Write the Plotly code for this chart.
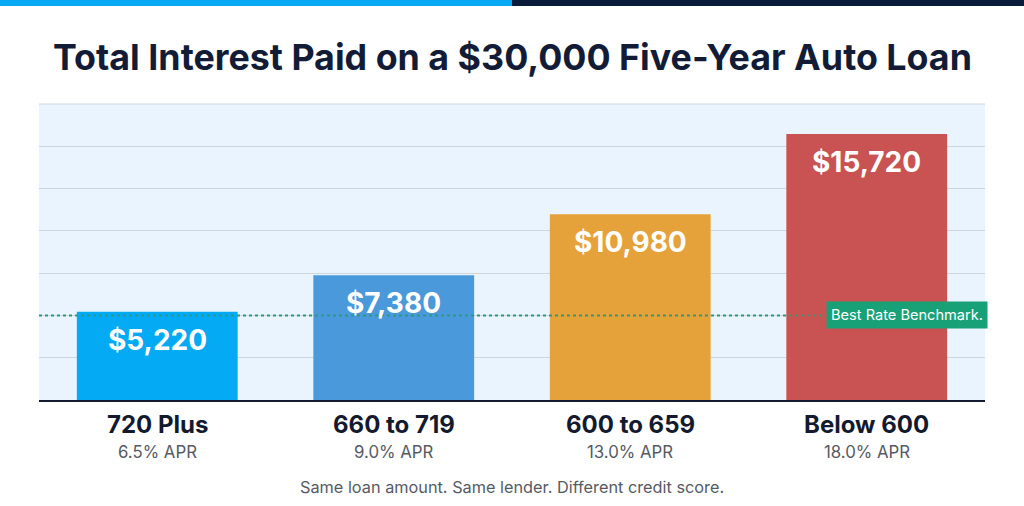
import plotly.graph_objects as go

categories = ["720 Plus", "660 to 719", "600 to 659", "Below 600"]
apr_labels = ["6.5% APR", "9.0% APR", "13.0% APR", "18.0% APR"]
interest = [5220, 7380, 10980, 15720]
value_labels = ["$5,220", "$7,380", "$10,980", "$15,720"]
bar_colors = ["#05AAF5", "#4A99DA", "#E6A23A", "#C85352"]
benchmark = 5000
benchmark_label = "Best Rate Benchmark."
title = "Total Interest Paid on a $30,000 Five-Year Auto Loan"
footer = "Same loan amount. Same lender. Different credit score."

W, H = 1024, 506
L, R, T, B = 39, 39, 104, 106
pw, ph = W - L - R, H - T - B

def px_x(x):
    return (x - L) / pw

def px_y(y):
    return (H - B - y) / ph

fig = go.Figure()
fig.add_trace(go.Bar(
    x=categories, y=interest, marker=dict(color=bar_colors, line=dict(width=0)),
    width=0.68, hoverinfo="skip", showlegend=False,
))

ann = []
for c, v, t in zip(categories, interest, value_labels):
    ann.append(dict(x=c, y=v, xref="x", yref="y", text=f"<b>{t}</b>", showarrow=False,
                    yanchor="middle", yshift=-28,
                    font=dict(family="Inter", size=28, color="white")))
for c, a in zip(categories, apr_labels):
    ann.append(dict(x=c, y=px_y(424), xref="x", yref="paper", text=f"<b>{c}</b>", showarrow=False,
                    yanchor="middle", font=dict(family="Inter", size=24, color="#141A2E")))
    ann.append(dict(x=c, y=px_y(452), xref="x", yref="paper", text=a, showarrow=False,
                    yanchor="middle", font=dict(family="Inter", size=16.8, color="#555A63")))
ann.append(dict(x=0.5, y=px_y(487), xref="paper", yref="paper", text=footer, showarrow=False,
                yanchor="middle", font=dict(family="Inter", size=16.3, color="#555A63")))
ann.append(dict(x=0.5, y=px_y(57), xref="paper", yref="paper", text=f"<b>{title}</b>", showarrow=False,
                yanchor="middle", font=dict(family="Inter", size=35.8, color="#131C36")))
ann.append(dict(x=px_x(826), y=benchmark, xref="paper", yref="y", text=benchmark_label, showarrow=False,
                xanchor="left", yanchor="middle", bgcolor="#18A077", borderpad=4,
                font=dict(family="Inter", size=14.6, color="white")))

shapes = [
    dict(type="line", xref="paper", yref="paper", x0=0, x1=1, y0=1, y1=1,
         line=dict(color="#CDD6DF", width=1), layer="below"),
    dict(type="line", xref="paper", yref="y", x0=0, x1=px_x(826), y0=benchmark, y1=benchmark,
         line=dict(color="#2E9A7A", width=2, dash="dot"), layer="above"),
    dict(type="rect", xref="paper", yref="paper", x0=px_x(0), x1=px_x(512), y0=px_y(0), y1=px_y(6),
         fillcolor="#08A9F4", line=dict(width=0)),
    dict(type="rect", xref="paper", yref="paper", x0=px_x(512), x1=px_x(1024), y0=px_y(0), y1=px_y(6),
         fillcolor="#0A1A3A", line=dict(width=0)),
]

fig.update_layout(
    width=W, height=H, margin=dict(l=L, r=R, t=T, b=B),
    paper_bgcolor="white", plot_bgcolor="#EAF4FE",
    annotations=ann, shapes=shapes, bargap=0.32,
    xaxis=dict(showticklabels=False, showline=True, linecolor="#141A2E", linewidth=2,
               ticks="", showgrid=False),
    yaxis=dict(range=[0, 17500], dtick=2500, showticklabels=False, gridcolor="#CDD6DF",
               gridwidth=1, zeroline=False, showline=False, ticks=""),
    font=dict(family="Inter"),
)
fig.write_html("out.html", config={"displayModeBar": False})
